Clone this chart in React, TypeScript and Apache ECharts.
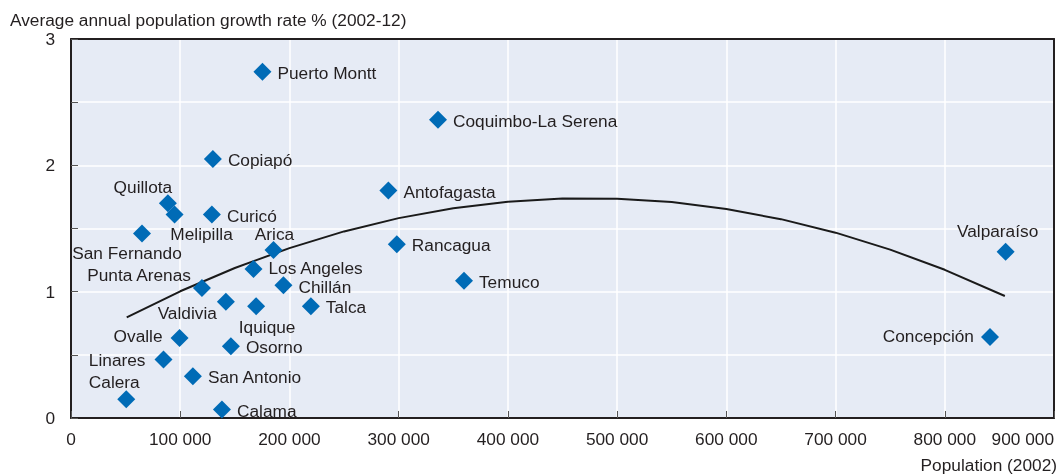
import React, { useEffect, useRef } from "react";
import * as echarts from "echarts";

const cities = [
  "Puerto Montt", "Coquimbo-La Serena", "Copiapó", "Antofagasta", "Quillota",
  "Melipilla", "Curicó", "San Fernando", "Arica", "Los Angeles", "Chillán",
  "Punta Arenas", "Valdivia", "Iquique", "Talca", "Ovalle", "Osorno", "Linares",
  "San Antonio", "Calera", "Calama", "Temuco", "Rancagua", "Valparaíso", "Concepción",
];
const population2002 = [
  175300, 336000, 129900, 290600, 88700,
  94800, 129000, 65000, 185400, 167100, 194500,
  119900, 141800, 169500, 219600, 99400, 146400, 84700,
  111600, 50600, 138200, 359800, 298300, 855700, 841400,
];
const growthRate = [
  2.74, 2.36, 2.05, 1.8, 1.7,
  1.61, 1.61, 1.46, 1.33, 1.18, 1.05,
  1.03, 0.92, 0.885, 0.885, 0.634, 0.568, 0.463,
  0.33, 0.148, 0.067, 1.086, 1.376, 1.315, 0.642,
];
const trendX = [51000, 100000, 150000, 200000, 250000, 300000, 350000, 400000, 450000, 500000, 550000, 600000, 650000, 700000, 750000, 800000, 855000];
const trendY = [0.796, 1.003, 1.187, 1.345, 1.477, 1.582, 1.66, 1.712, 1.737, 1.736, 1.709, 1.654, 1.574, 1.467, 1.333, 1.173, 0.966];

const xTitle = "Population (2002)";
const yTitle = "Average annual population growth rate % (2002-12)";

// label placement (layout only)
const labelPlacement: Record<string, { position: string; offset: number[] }> = {
  Quillota: { position: "top", offset: [-25, 6] },
  Melipilla: { position: "bottom", offset: [27, -3] },
  "San Fernando": { position: "bottom", offset: [-15, -3] },
  Arica: { position: "top", offset: [1, 7] },
  "Los Angeles": { position: "right", offset: [1, -1] },
  "Chillán": { position: "right", offset: [1, 2] },
  "Punta Arenas": { position: "left", offset: [3, -13] },
  Valdivia: { position: "left", offset: [5, 11] },
  Iquique: { position: "bottom", offset: [11, -2] },
  Ovalle: { position: "left", offset: [-3, -2] },
  Linares: { position: "left", offset: [-4, 0] },
  Calera: { position: "top", offset: [-12, 5] },
  "Valparaíso": { position: "top", offset: [-8, 2] },
  "Concepción": { position: "left", offset: [-2, -1] },
};

const FONT = "'Liberation Sans', Arial, sans-serif";
const FS = 17.3;
const TXT = "#231f20";
const FRAME = "#231f20";

export default function App() {
  const ref = useRef<HTMLDivElement>(null);
  useEffect(() => {
    if (!ref.current) return;
    const chart = echarts.init(ref.current, null, { renderer: "svg" });
    const scatterData = cities.map((name, i) => {
      const p = labelPlacement[name];
      return {
        name,
        value: [population2002[i], growthRate[i]],
        label: p ? { position: p.position, offset: p.offset } : { position: "right", offset: [1, 1] },
      };
    });
    const fmt = (v: number) => String(v).replace(/\B(?=(\d{3})+(?!\d))/g, " ");
    chart.setOption({
      animation: false,
      textStyle: { fontFamily: FONT },
      grid: {
        left: 71,
        right: 7,
        top: 39,
        bottom: 58,
        show: true,
        backgroundColor: "#e6ebf5",
        borderWidth: 0,
      },
      xAxis: [
        {
          type: "value",
          min: 0,
          max: 900000,
          interval: 100000,
          axisLine: { show: true, lineStyle: { color: FRAME, width: 2 } },
          axisTick: { show: true, inside: true, length: 7, lineStyle: { color: "#555", width: 1 } },
          splitLine: { show: true, lineStyle: { color: "#ffffff", width: 1.5 } },
          axisLabel: {
            color: TXT,
            fontFamily: FONT,
            fontSize: FS,
            margin: 12,
            showMaxLabel: true,
            showMinLabel: true,
            alignMaxLabel: "right",
            formatter: fmt,
          },
        },
        {
          type: "value",
          position: "top",
          min: 0,
          max: 900000,
          interval: 100000,
          axisLine: { show: true, onZero: false, lineStyle: { color: FRAME, width: 2 } },
          axisTick: { show: false },
          splitLine: { show: false },
          axisLabel: { show: false },
        },
      ],
      yAxis: [
        {
          type: "value",
          min: 0,
          max: 3,
          interval: 0.5,
          axisLine: { show: true, lineStyle: { color: FRAME, width: 2 } },
          axisTick: { show: true, inside: true, length: 7, lineStyle: { color: "#555", width: 1 } },
          splitLine: { show: true, lineStyle: { color: "#ffffff", width: 1.5 } },
          axisLabel: {
            color: TXT,
            fontFamily: FONT,
            fontSize: FS,
            margin: 16,
            formatter: (v: number) => (Number.isInteger(v) ? String(v) : ""),
          },
        },
        {
          type: "value",
          position: "right",
          min: 0,
          max: 3,
          interval: 0.5,
          axisLine: { show: true, onZero: false, lineStyle: { color: FRAME, width: 2 } },
          axisTick: { show: false },
          splitLine: { show: false },
          axisLabel: { show: false },
        },
      ],
      graphic: [
        {
          type: "text",
          left: 10,
          top: 11,
          style: { text: yTitle, fill: TXT, font: `${FS}px ${FONT}` },
        },
        {
          type: "text",
          right: 4,
          top: 456,
          style: { text: xTitle, fill: TXT, font: `${FS}px ${FONT}` },
        },
      ],
      series: [
        {
          type: "line",
          data: trendX.map((x, i) => [x, trendY[i]]),
          smooth: false,
          showSymbol: false,
          lineStyle: { color: "#1a1a1a", width: 2, join: "round" },
          z: 2,
          silent: true,
        },
        {
          type: "scatter",
          symbol: "diamond",
          symbolSize: 18,
          clip: false,
          itemStyle: { color: "#006bb6", opacity: 1 },
          label: {
            show: true,
            formatter: "{b}",
            color: TXT,
            fontFamily: FONT,
            fontSize: FS,
            distance: 5,
          },
          data: scatterData,
          z: 3,
        },
      ],
    });
    return () => chart.dispose();
  }, []);
  return <div ref={ref} style={{ position: "fixed", left: 0, top: 0, width: 1061, height: 476 }} />;
}
